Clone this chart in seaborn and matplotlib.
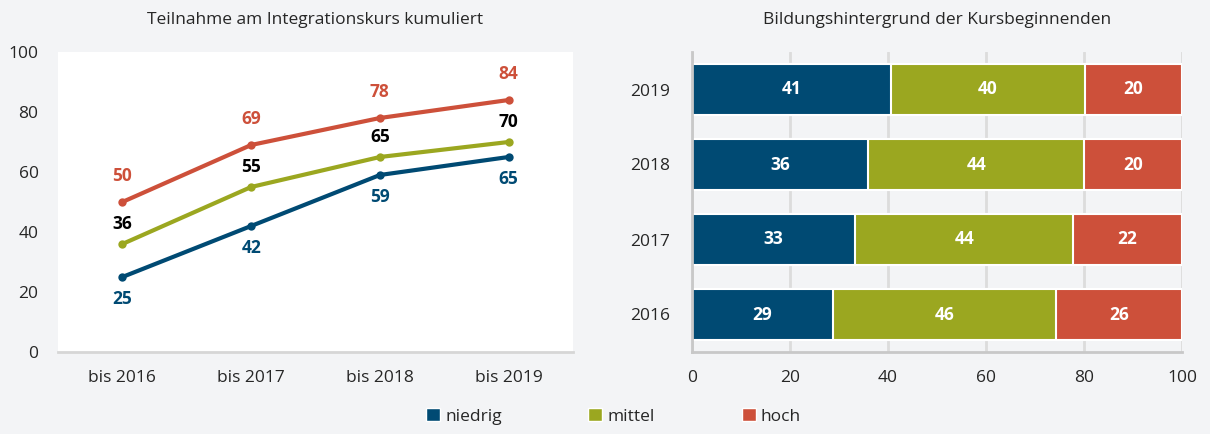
import matplotlib.pyplot as plt
import numpy as np
import pandas as pd
import seaborn as sns
from matplotlib.patches import Patch

# data
periods = ["bis 2016", "bis 2017", "bis 2018", "bis 2019"]
niedrig_cum = [25, 42, 59, 65]
mittel_cum = [36, 55, 65, 70]
hoch_cum = [50, 69, 78, 84]

years = ["2019", "2018", "2017", "2016"]
niedrig_share = [41, 36, 33, 29]
mittel_share = [40, 44, 44, 46]
hoch_share = [20, 20, 22, 26]

groups = ["niedrig", "mittel", "hoch"]
colors = {"niedrig": "#004a73", "mittel": "#9ba720", "hoch": "#cd503a"}
label_colors = {"niedrig": "#004a73", "mittel": "#000000", "hoch": "#cd503a"}
bg = "#f3f4f6"

sns.set_style("white")
plt.rcParams["font.family"] = ["Open Sans", "DejaVu Sans"]
plt.rcParams["font.size"] = 12.5

fig = plt.figure(figsize=(12.1, 4.34), dpi=100, facecolor=bg)
ax1 = fig.add_axes([58 / 1210, 1 - 352 / 434, 515 / 1210, 300 / 434])
ax2 = fig.add_axes([692 / 1210, 1 - 352 / 434, 490 / 1210, 300 / 434])

# left: cumulative participation
line_df = pd.DataFrame({
    "period": periods * 3,
    "value": niedrig_cum + mittel_cum + hoch_cum,
    "group": [g for g in groups for _ in periods],
})
ax1.set_facecolor("white")
sns.lineplot(data=line_df, x="period", y="value", hue="group", hue_order=groups,
             palette=colors, marker="o", markersize=6, markeredgewidth=0,
             linewidth=3, ax=ax1, legend=False)

offsets = {"niedrig": -16, "mittel": 14.5, "hoch": 19}
for g, vals in zip(groups, [niedrig_cum, mittel_cum, hoch_cum]):
    for i, v in enumerate(vals):
        ax1.annotate(str(v), (i, v), xytext=(0, offsets[g]), textcoords="offset points",
                     ha="center", va="center", fontsize=12.5, fontweight="bold",
                     color=label_colors[g])

ax1.set_ylim(0, 100)
ax1.set_xlim(-0.5, 3.5)
ax1.set_yticks(range(0, 101, 20))
ax1.set_xlabel("")
ax1.set_ylabel("")
for s in ["top", "right", "left"]:
    ax1.spines[s].set_visible(False)
ax1.spines["bottom"].set_color("#d6d6d6")
ax1.spines["bottom"].set_linewidth(2)
ax1.tick_params(axis="y", length=0, pad=14, labelsize=12.5)
ax1.tick_params(axis="x", length=0, pad=13, labelsize=12.5)
ax1.set_title("Teilnahme am Integrationskurs kumuliert", fontsize=12.5, pad=20)

# right: stacked shares (scaled to 100), drawn as cumulative layers
ax2.set_facecolor(bg)
shares = np.array([niedrig_share, mittel_share, hoch_share], dtype=float)
scaled = shares / shares.sum(axis=0) * 100
cum = np.cumsum(scaled, axis=0)
for k in [2, 1, 0]:
    sns.barplot(x=cum[k], y=years, order=years, color=colors[groups[k]], orient="h",
                width=0.69, saturation=1, edgecolor="white", linewidth=1.5,
                ax=ax2, zorder=2)

for k in range(3):
    start = cum[k] - scaled[k]
    for i in range(len(years)):
        ax2.text(start[i] + scaled[k][i] / 2, i, str(int(shares[k][i])), ha="center",
                 va="center", color="white", fontsize=12.5, fontweight="bold", zorder=3)

ax2.set_xlim(0, 100)
ax2.set_ylim(3.5, -0.5)
ax2.set_xticks(range(0, 101, 20))
ax2.grid(axis="x", color="#dcdcdc", linewidth=2, zorder=0)
ax2.set_axisbelow(True)
ax2.set_xlabel("")
ax2.set_ylabel("")
for s in ["top", "right"]:
    ax2.spines[s].set_visible(False)
for s in ["left", "bottom"]:
    ax2.spines[s].set_color("#c8c8c8")
    ax2.spines[s].set_linewidth(2)
ax2.tick_params(axis="y", length=0, pad=16, labelsize=12.5)
ax2.tick_params(axis="x", length=0, pad=13, labelsize=12.5)
ax2.set_title("Bildungshintergrund der Kursbeginnenden", fontsize=12.5, pad=20)

handles = [Patch(facecolor=colors[g], label=g) for g in groups]
fig.legend(handles=handles, loc="lower center", bbox_to_anchor=(0.507, -0.015), ncol=3,
           frameon=False, fontsize=12.5, handlelength=0.8, handleheight=0.8,
           handletextpad=0.3, columnspacing=5)

fig.savefig("out.png", dpi=100, facecolor=bg)
